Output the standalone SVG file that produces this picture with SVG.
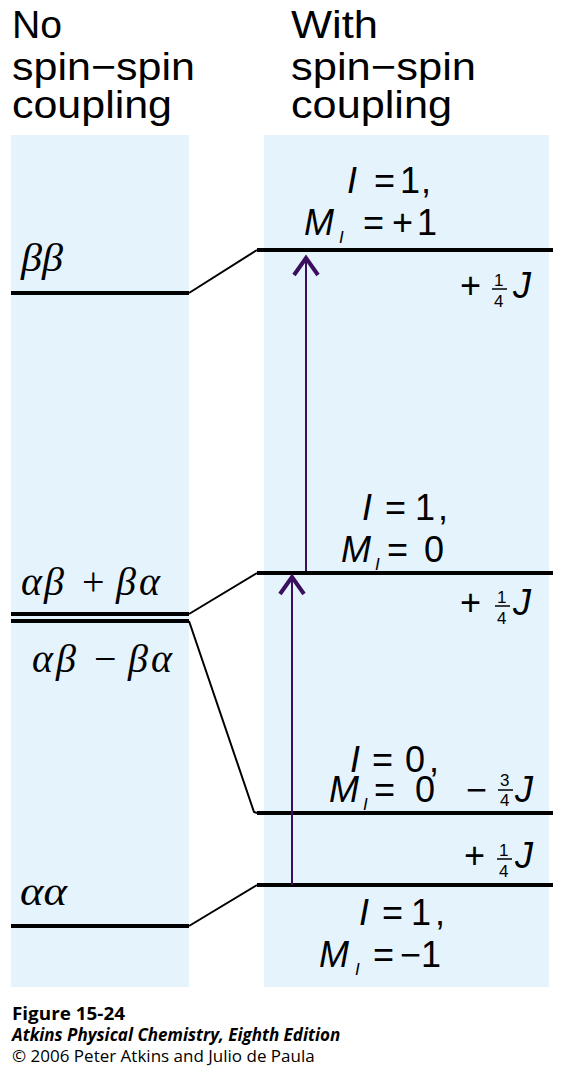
<svg xmlns="http://www.w3.org/2000/svg" width="565" height="1072" viewBox="0 0 565 1072">
<style>
.panel{fill:#e4f3fc}
.lvl{stroke:#000;stroke-width:4;fill:none}
.con{stroke:#000;stroke-width:2;fill:none}
.arr{stroke:#3a0f5e;stroke-width:2;fill:none}
.head{stroke:#3a0f5e;stroke-width:4;fill:none}
.fl{stroke:#000;stroke-width:1.5}
.hdr{font-family:"Liberation Sans",Arial,sans-serif;font-size:38px;fill:#000}
.gk{font-family:"Liberation Serif","DejaVu Serif",serif;font-style:italic;font-size:40px;fill:#000}
.op{font-style:normal}
.lab{font-family:"Liberation Sans",Arial,sans-serif;font-size:36px;fill:#000}
.it{font-style:italic}
.sub{font-family:"Liberation Sans",Arial,sans-serif;font-size:17px;font-style:italic;fill:#000}
.fr{font-family:"Liberation Sans",Arial,sans-serif;font-size:17px;fill:#000}
.cap{font-family:"Open Sans","Noto Sans",sans-serif;font-size:17px;fill:#000}
</style>
<g id="panels">
<rect class="panel" x="11" y="135" width="178" height="852"/>
<rect class="panel" x="264" y="135" width="285" height="852"/>
</g>
<g id="headers">
<text class="hdr" x="12" y="38" textLength="50" lengthAdjust="spacingAndGlyphs">No</text>
<text class="hdr" x="12" y="80" textLength="183" lengthAdjust="spacingAndGlyphs">spin−spin</text>
<text class="hdr" x="12" y="118" textLength="160" lengthAdjust="spacingAndGlyphs">coupling</text>
<text class="hdr" x="291" y="38" textLength="87" lengthAdjust="spacingAndGlyphs">With</text>
<text class="hdr" x="291" y="80" textLength="185" lengthAdjust="spacingAndGlyphs">spin−spin</text>
<text class="hdr" x="291" y="118" textLength="161" lengthAdjust="spacingAndGlyphs">coupling</text>
</g>
<g id="left-levels">
<g id="bb"><line class="lvl" x1="11" y1="293" x2="189" y2="293"/><text class="gk" x="21" y="271" textLength="42" lengthAdjust="spacingAndGlyphs">ββ</text></g>
<g id="ab-plus"><line class="lvl" x1="11" y1="614" x2="189" y2="614"/><text class="gk" x="21" y="595">α<tspan x="44">β</tspan><tspan class="op" x="82">+</tspan><tspan x="116">β</tspan><tspan x="139">α</tspan></text></g>
<g id="ab-minus"><line class="lvl" x1="11" y1="621" x2="189" y2="621"/><text class="gk" x="32" y="672">α<tspan x="56">β</tspan><tspan class="op" x="94">−</tspan><tspan x="128">β</tspan><tspan x="151">α</tspan></text></g>
<g id="aa"><line class="lvl" x1="11" y1="926" x2="189" y2="926"/><text class="gk" x="20" y="905" textLength="47" lengthAdjust="spacingAndGlyphs">αα</text></g>
</g>
<g id="right-levels">
<g id="t1"><line class="lvl" x1="257" y1="250" x2="553" y2="250"/>
<text class="lab" x="347" y="193"><tspan class="it">I</tspan><tspan x="374">=</tspan><tspan x="400">1</tspan><tspan x="421">,</tspan></text>
<text class="lab" x="304" y="235"><tspan class="it">M</tspan><tspan x="363">=</tspan><tspan x="392">+</tspan><tspan x="417">1</tspan></text>
<text class="sub" x="339" y="243">I</text>
<text class="lab" x="460" y="298">+</text><text class="fr" x="494" y="286">1</text><line class="fl" x1="492" y1="289" x2="507" y2="289"/><text class="fr" x="494" y="307">4</text><text class="lab it" x="513" y="298">J</text>
</g>
<g id="t0"><line class="lvl" x1="257" y1="573" x2="553" y2="573"/>
<text class="lab" x="362" y="520"><tspan class="it">I</tspan><tspan x="385">=</tspan><tspan x="415">1</tspan><tspan x="438">,</tspan></text>
<text class="lab" x="341" y="562"><tspan class="it">M</tspan><tspan x="387">=</tspan><tspan x="424">0</tspan></text>
<text class="sub" x="375" y="570">I</text>
<text class="lab" x="460" y="615">+</text><text class="fr" x="497" y="603">1</text><line class="fl" x1="495" y1="606" x2="510" y2="606"/><text class="fr" x="497" y="624">4</text><text class="lab it" x="513" y="615">J</text>
</g>
<g id="s0"><line class="lvl" x1="257" y1="813" x2="553" y2="813"/>
<text class="lab" x="350" y="772"><tspan class="it">I</tspan><tspan x="372">=</tspan><tspan x="405">0</tspan><tspan x="429">,</tspan></text>
<text class="lab" x="329" y="802"><tspan class="it">M</tspan><tspan x="374">=</tspan><tspan x="415">0</tspan></text>
<text class="sub" x="363" y="810">I</text>
<text class="lab" x="466" y="802">−</text><text class="fr" x="500" y="786">3</text><line class="fl" x1="498" y1="790" x2="513" y2="790"/><text class="fr" x="500" y="806">4</text><text class="lab it" x="515" y="802">J</text>
</g>
<g id="tm1"><line class="lvl" x1="257" y1="885" x2="553" y2="885"/>
<text class="lab" x="464" y="868">+</text><text class="fr" x="499" y="856">1</text><line class="fl" x1="497" y1="859" x2="512" y2="859"/><text class="fr" x="499" y="877">4</text><text class="lab it" x="515" y="868">J</text>
<text class="lab" x="359" y="925"><tspan class="it">I</tspan><tspan x="382">=</tspan><tspan x="411">1</tspan><tspan x="435">,</tspan></text>
<text class="lab" x="319" y="967"><tspan class="it">M</tspan><tspan x="373">=</tspan><tspan x="400">−</tspan><tspan x="421">1</tspan></text>
<text class="sub" x="355" y="975">I</text>
</g>
</g>
<g id="connectors">
<polyline class="con" points="189,293 257,250"/>
<polyline class="con" points="189,614 257,573"/>
<polyline class="con" points="189,621 254,812 257,813"/>
<polyline class="con" points="189,926 257,885"/>
<line class="arr" x1="292" y1="885" x2="292" y2="578"/>
<polyline class="head" points="280,594 292,577 304,594"/>
<line class="arr" x1="306" y1="571" x2="306" y2="258"/>
<polyline class="head" points="294,275 306,258 318,275"/>
</g>
<g id="caption">
<text class="cap" x="12" y="1020" font-weight="bold" font-size="19" textLength="113" lengthAdjust="spacingAndGlyphs">Figure 15-24</text>
<text class="cap" x="12" y="1041" font-weight="bold" font-style="italic">Atkins Physical Chemistry, Eighth Edition</text>
<text class="cap" x="12" y="1062">© 2006 Peter Atkins and Julio de Paula</text>
</g>
</svg>
